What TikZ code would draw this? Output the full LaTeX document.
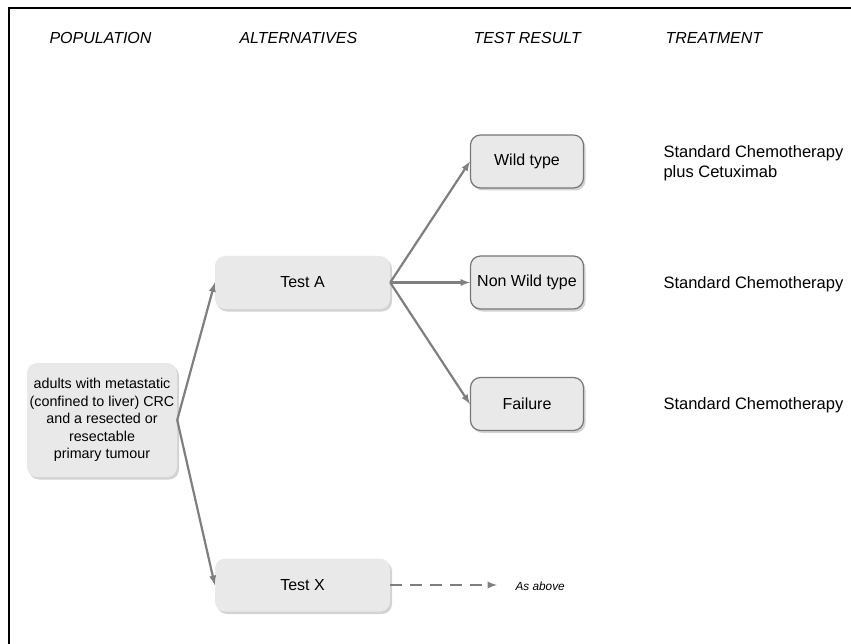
\documentclass[tikz,border=0pt]{standalone}
\usepackage{fontspec}
\setmainfont{Liberation Sans}
\usetikzlibrary{shadows}

\definecolor{boxfill}{HTML}{E9E9E9}
\definecolor{boxline}{HTML}{777777}
\definecolor{linkgray}{HTML}{7F7F7F}

\begin{document}
\begin{tikzpicture}[x=1pt, y=-1pt,
        box/.style={fill=boxfill, rounded corners=10pt, inner sep=0pt,
            drop shadow={opacity=0.35, shadow xshift=2pt, shadow yshift=-2.5pt},
            font=\fontsize{16}{19}\selectfont},
        result/.style={box, draw=boxline, line width=1.2pt,
            minimum width=113pt, minimum height=53pt},
        test/.style={box, minimum width=175pt, minimum height=53pt},
        header/.style={anchor=west, font=\fontsize{16}{19}\selectfont\itshape},
        treat/.style={anchor=west, align=left, font=\fontsize{16.5}{19.5}\selectfont},
        link/.style={draw=linkgray, line width=2.2pt, -latex}]

        % picture size
        \useasboundingbox (0,0) rectangle (851,644);

        % frame (top and left only)
        \draw[line width=2pt] (8.5,644) -- (8.5,8.5) -- (851,8.5);

        % column headers
        \node[header] (hPop)   at (46,38)  {POPULATION};
        \node[header] (hAlt)   at (236,38) {ALTERNATIVES};
        \node[header] (hRes)   at (470,38) {TEST RESULT};
        \node[header] (hTreat) at (662,38) {TREATMENT};

        % population
        \node[box, minimum width=150pt, minimum height=114pt, align=center,
            font=\fontsize{14.3}{17.5}\selectfont] (pop) at (102,420)
            {adults with metastatic\\(confined to liver) CRC\\and a resected or\\resectable\\primary tumour};

        % alternatives
        \node[test] (testA) at (302.5,282.5) {Test A};
        \node[test] (testX) at (302.5,585)   {Test X};

        % test results
        \node[result] (wild)    at (527,161.5) {Wild type};
        \node[result] (nonwild) at (527,282.5) {Non Wild type};
        \node[result] (fail)    at (527,404)   {Failure};

        % treatments
        \node[treat] (tWild)    at (660,163) {Standard Chemotherapy\\plus Cetuximab};
        \node[treat] (tNonwild) at (660,284) {Standard Chemotherapy};
        \node[treat] (tFail)    at (660,405) {Standard Chemotherapy};

        % connectors
        \draw[link] (pop.east) -- (testA.west);
        \draw[link] (pop.east) -- (testX.west);
        \draw[link] (testA.east) -- (wild.west);
        \draw[link] (testA.east) -- (nonwild.west);
        \draw[link] (testA.east) -- (fail.west);

        % dashed branch of Test X
        \coordinate (xEnd) at (497,585);
        \draw[link, dash pattern=on 12pt off 8pt] (testX.east) -- (xEnd);
        \node[anchor=west, font=\fontsize{11.8}{14}\selectfont\itshape] (above) at (512,586) {As above};
    \end{tikzpicture}
\end{document}
